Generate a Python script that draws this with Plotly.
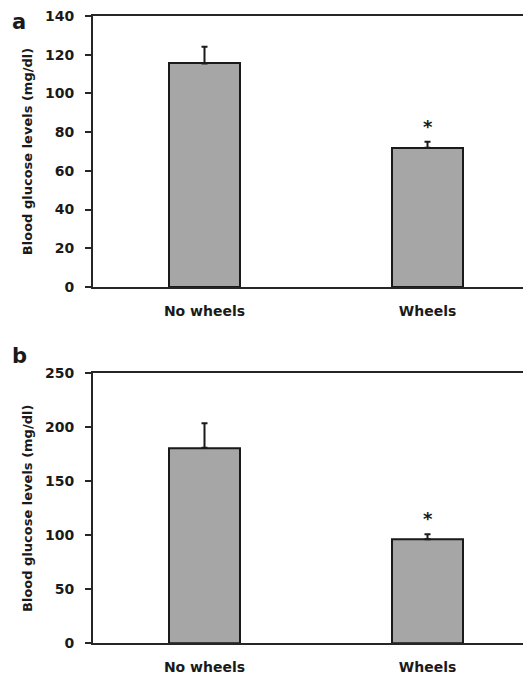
import plotly.graph_objects as go

categories = ["No wheels", "Wheels"]
glucose_a = [115.5, 72.0]
sem_a = [8.6, 3.1]
glucose_b = [181.0, 96.3]
sem_b = [22.7, 4.6]
yticks_a = [0, 20, 40, 60, 80, 100, 120, 140]
yticks_b = [0, 50, 100, 150, 200, 250]
sig_label = "*"
panel_labels = ["a", "b"]
ytitle = "Blood glucose levels (mg/dl)"

FONT = "DejaVu Sans"
LINE = "#262626"
W, H = 531, 678
OFF = 8  # page body margin offset

fig = go.Figure()

for i, (vals, errs) in enumerate([(glucose_a, sem_a), (glucose_b, sem_b)]):
    fig.add_trace(go.Bar(
        x=categories, y=vals,
        xaxis="x" if i == 0 else "x2",
        yaxis="y" if i == 0 else "y2",
        width=0.314,
        marker=dict(color="#a6a6a6", line=dict(color="#1a1a1a", width=2)),
        error_y=dict(type="data", symmetric=False, array=errs, arrayminus=[0, 0],
                     color="#1a1a1a", thickness=2, width=3),
        showlegend=False, hoverinfo="skip",
    ))
    fig.add_annotation(
        x=categories[1], y=vals[1] + errs[1],
        xref="x" if i == 0 else "x2", yref="y" if i == 0 else "y2",
        text=sig_label, showarrow=False, yanchor="bottom", yshift=3,
        font=dict(family=FONT, size=18, color="#1a1a1a", weight="bold"),
    )

xcommon = dict(
    type="category", range=[-0.5, 1.5], showline=True, linecolor=LINE, linewidth=2,
    mirror=True, ticks="", showgrid=False, zeroline=False, automargin=False,
    tickfont=dict(family=FONT, size=14, color="#1a1a1a", weight="bold"),
    ticklabelstandoff=10,
)
ycommon = dict(
    showline=True, linecolor=LINE, linewidth=2, ticks="outside", ticklen=6,
    tickwidth=2, tickcolor=LINE, showgrid=False, zeroline=False, automargin=False,
    ticklabeloverflow="allow",
    tickfont=dict(family=FONT, size=14, color="#1a1a1a", weight="bold"),
    ticklabelstandoff=8,
    title=dict(text=ytitle, font=dict(family=FONT, size=13, color="#1a1a1a", weight="bold"),
               standoff=9),
)

L = 93 - OFF
fig.update_layout(
    width=W, height=H,
    margin=dict(l=L, r=0, t=0, b=0, autoexpand=False),
    paper_bgcolor="white", plot_bgcolor="white",
    bargap=0,
    xaxis=dict(**xcommon, anchor="y"),
    xaxis2=dict(**xcommon, anchor="y2"),
    yaxis=dict(**ycommon, domain=[1 - (287 - OFF) / H, 1 - (16 - OFF) / H], range=[0, 140],
               tickvals=yticks_a, anchor="x"),
    yaxis2=dict(**ycommon, domain=[1 - (643.3 - OFF) / H, 1 - (373.3 - OFF) / H], range=[0, 250],
                tickvals=yticks_b, anchor="x2"),
)

lx = (19 - OFF - L) / (W - L)
fig.add_annotation(x=lx, y=1, xref="paper", yref="paper",
                   text=panel_labels[0], showarrow=False, xanchor="center", yanchor="top",
                   font=dict(family=FONT, size=21, color="#1a1a1a", weight="bold"))
fig.add_annotation(x=lx, y=1 - (356 - OFF) / H, xref="paper", yref="paper",
                   text=panel_labels[1], showarrow=False, xanchor="center", yanchor="middle",
                   font=dict(family=FONT, size=21, color="#1a1a1a", weight="bold"))

fig.write_html("out.html")
